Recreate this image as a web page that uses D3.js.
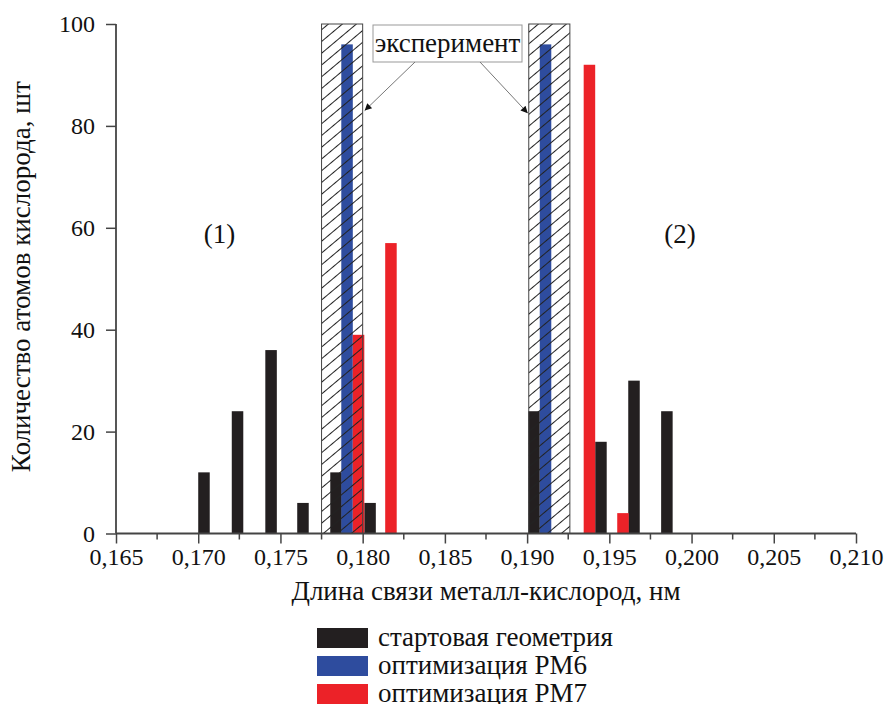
<!DOCTYPE html>
<html><head><meta charset="utf-8">
<script src="https://cdn.jsdelivr.net/npm/d3@7"></script>
<style>
body{margin:0;background:#fff;}
text{font-family:"Liberation Serif","Times New Roman",Times,serif;fill:#111;}
</style></head>
<body>
<svg id="chart" width="885" height="704"></svg>
<script>
// ---- data ----
const startX   = [0.17035,0.17239,0.17443,0.17637,0.17838,0.18045,0.19042,0.19449,0.1965,0.1985];
const startY   = [12,24,36,6,12,6,24,18,30,24];
const pm6X     = [0.17905,0.19112];
const pm6Y     = [96,96];
const pm7X     = [0.17975,0.18172,0.19379,0.19583];
const pm7Y     = [39,57,92,4];
const expRanges = [[0.1775,0.1800],[0.1901,0.1926]];
const xTicks   = [0.165,0.170,0.175,0.180,0.185,0.190,0.195,0.200,0.205,0.210];
const yTicks   = [0,20,40,60,80,100];
const seriesNames = ["стартовая геометрия","оптимизация PM6","оптимизация PM7"];
const colors = ["#231f20","#2e4c9e","#ec2228"];

const svg = d3.select("#chart");
const x = d3.scaleLinear().domain([0.165,0.210]).range([116,856]);
const y = d3.scaleLinear().domain([0,100]).range([533.5,24]);
const barW = 0.0007;
const FS = "27px", TFS = "24px";

const defs = svg.append("defs");
const pat = defs.append("pattern").attr("id","hatch").attr("patternUnits","userSpaceOnUse")
  .attr("width",9).attr("height",9).attr("patternTransform","rotate(-40)");
pat.append("line").attr("x1",0).attr("x2",9).attr("y1",4.5).attr("y2",4.5)
  .attr("stroke","#222").attr("stroke-width",1);
const mk = defs.append("marker").attr("id","arr").attr("viewBox","0 0 10 10")
  .attr("refX",10).attr("refY",5).attr("markerWidth",10).attr("markerHeight",7)
  .attr("markerUnits","userSpaceOnUse").attr("orient","auto");
mk.append("path").attr("d","M0,0 L10,5 L0,10 Z").attr("fill","#111");

const series = [
  {xs:startX, ys:startY, c:colors[0]},
  {xs:pm6X, ys:pm6Y, c:colors[1]},
  {xs:pm7X, ys:pm7Y, c:colors[2]}
];
series.forEach(s=>{
  svg.append("g").selectAll("rect").data(s.xs.map((v,i)=>[v,s.ys[i]])).join("rect")
    .attr("x",d=>x(d[0]-barW/2)).attr("width",d=>x(d[0]+barW/2)-x(d[0]-barW/2))
    .attr("y",d=>y(d[1])).attr("height",d=>y(0)-y(d[1])).attr("fill",s.c);
});

// hatched experiment regions
svg.append("g").selectAll("rect").data(expRanges).join("rect")
  .attr("x",d=>x(d[0])).attr("width",d=>x(d[1])-x(d[0]))
  .attr("y",y(100)).attr("height",y(0)-y(100))
  .attr("fill","url(#hatch)").attr("stroke","#444").attr("stroke-width",1);

// axes
const xAxis = d3.axisBottom(x).tickValues(xTicks).tickSize(10).tickPadding(4.5)
  .tickFormat(d=>d3.format(".3f")(d).replace(".",","));
const gx = svg.append("g").attr("transform",`translate(0,${y(0)})`).call(xAxis);
const minor = d3.range(0,19).map(i=>0.165+i*0.0025).filter((d,i)=>i%2===1);
gx.selectAll(".minor").data(minor).join("line").attr("class","minor")
  .attr("x1",d=>x(d)).attr("x2",d=>x(d)).attr("y1",0).attr("y2",6).attr("stroke","#444").attr("stroke-width",1.5);
const yAxis = d3.axisLeft(y).tickValues(yTicks).tickSize(10).tickPadding(11);
const gy = svg.append("g").attr("transform",`translate(${x(0.165)},0)`).call(yAxis);
[gx,gy].forEach(g=>{
  g.attr("font-family",null).attr("font-size",null);
  g.select(".domain").attr("stroke","#444").attr("stroke-width",1.8);
  g.selectAll(".tick line").attr("stroke","#444").attr("stroke-width",1.5);
  g.selectAll(".tick text").style("font-size",TFS).attr("fill","#111");
});
gx.select(".domain").attr("d",`M${x(0.165)},0H${x(0.210)}`);
gy.select(".domain").attr("d",`M0,${y(0)}V${y(100)}`);

// axis titles
svg.append("text").attr("x",(x(0.165)+x(0.210))/2).attr("y",600).attr("text-anchor","middle")
  .style("font-size",FS).text("Длина связи металл-кислород, нм");
svg.append("text").attr("transform",`translate(30,${(y(0)+y(100))/2 - 2}) rotate(-90)`)
  .attr("text-anchor","middle").style("font-size",FS).text("Количество атомов кислорода, шт");

// group labels
svg.append("text").attr("x",x(0.1713)).attr("y",y(57)).attr("text-anchor","middle").style("font-size",FS).text("(1)");
svg.append("text").attr("x",x(0.1993)).attr("y",y(57)).attr("text-anchor","middle").style("font-size",FS).text("(2)");

// annotation box
const bx0 = 373, bx1 = 522, by0 = y(100)+1, by1 = 62;
svg.append("rect").attr("x",bx0).attr("y",by0).attr("width",bx1-bx0).attr("height",by1-by0)
  .attr("fill","#fff").attr("stroke","#999").attr("stroke-width",1);
svg.append("text").attr("x",(bx0+bx1)/2).attr("y",52).attr("text-anchor","middle")
  .style("font-size",FS).text("эксперимент");
svg.append("line").attr("x1",415).attr("y1",by1).attr("x2",x(expRanges[0][1])+2).attr("y2",y(83))
  .attr("stroke","#777").attr("stroke-width",1).attr("marker-end","url(#arr)");
svg.append("line").attr("x1",480).attr("y1",by1).attr("x2",x(expRanges[1][0])-1).attr("y2",y(82.5))
  .attr("stroke","#777").attr("stroke-width",1).attr("marker-end","url(#arr)");

// legend
const lg = svg.append("g");
seriesNames.forEach((n,i)=>{
  lg.append("rect").attr("x",317).attr("y",628+i*28).attr("width",51).attr("height",20).attr("fill",colors[i]);
  lg.append("text").attr("x",378).attr("y",646+i*28).style("font-size",FS).text(n);
});
</script>
</body></html>
